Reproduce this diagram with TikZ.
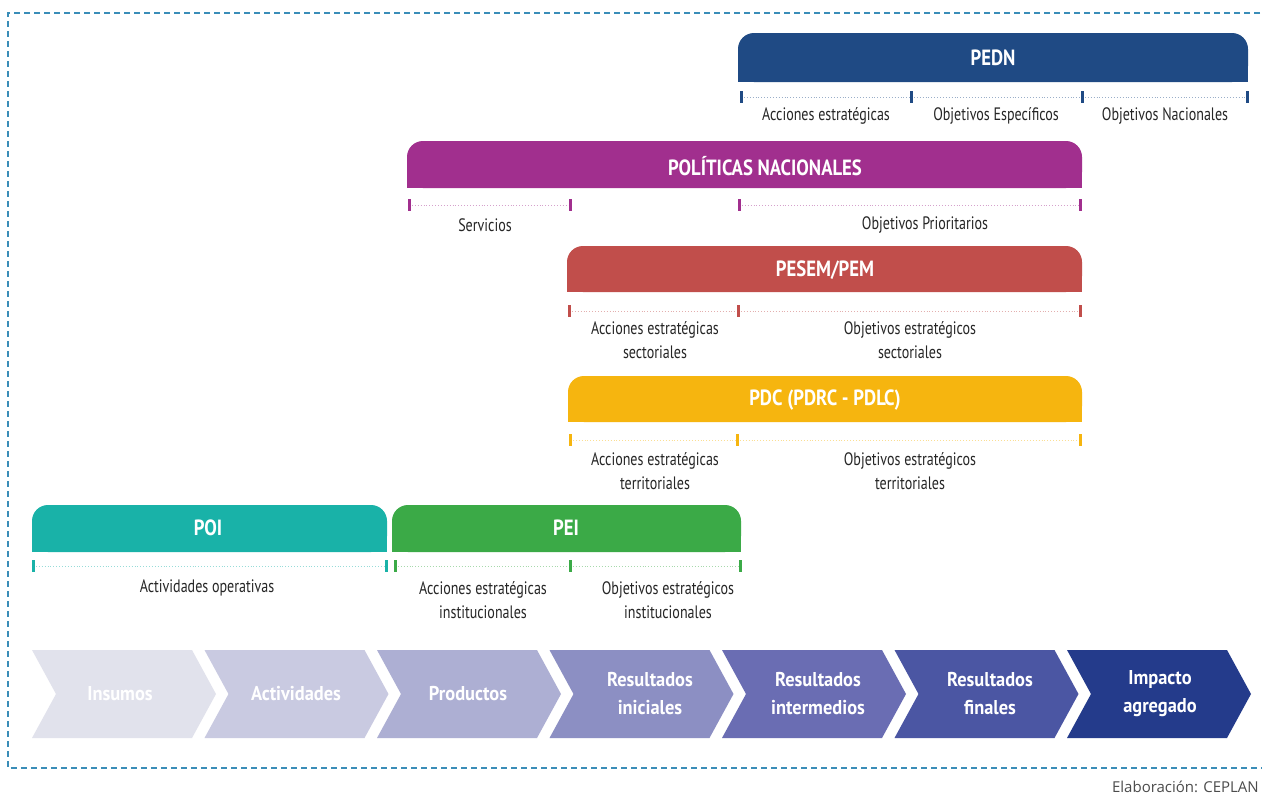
\documentclass[tikz,border=0pt]{standalone}
\usepackage{fontspec}
\setmainfont{PT Sans}[FakeStretch=0.78]
\newfontfamily\titlefont{PT Sans}[FakeStretch=0.85]
\newfontfamily\chevfont{PT Sans}[FakeStretch=0.92]
\newfontfamily\creditfont{Open Sans}
\definecolor{cpedn}{HTML}{1F4A84}
\definecolor{cpol}{HTML}{A12F8E}
\definecolor{cpesem}{HTML}{C14E4B}
\definecolor{cpdc}{HTML}{F6B50F}
\definecolor{cpoi}{HTML}{19B2A8}
\definecolor{cpei}{HTML}{3BAA47}
\definecolor{chA}{HTML}{E1E2EC}
\definecolor{chB}{HTML}{C9CAE1}
\definecolor{chC}{HTML}{ADAFD3}
\definecolor{chD}{HTML}{8C8FC3}
\definecolor{chE}{HTML}{6A6DB3}
\definecolor{chF}{HTML}{4B56A3}
\definecolor{chG}{HTML}{243B8B}
\definecolor{frame}{HTML}{3A8DB8}
\newcommand\planbar[5]{%
  \fill[#1,rounded corners=16pt] (#2,#4) rectangle (#3,#5);
  \fill[#1] (#2,#4+20) rectangle (#3,#5);}
\newcommand\planspan[4]{% color, x1, x2, y
  \draw[#1!45,dotted,line width=0.9pt] (#2,#4) -- (#3,#4);
  \fill[#1] (#2-1.5,#4-6) rectangle (#2+1.5,#4+6);
  \fill[#1] (#3-1.5,#4-6) rectangle (#3+1.5,#4+6);}
\newcommand\chev[2]{% color, start x
  \fill[#1] (#2,650) -- (#2+160,650) -- (#2+184,694) -- (#2+160,738) -- (#2,738) -- (#2+24,694) -- cycle;}
\tikzset{
  bartitle/.style={text=white,font=\titlefont\bfseries\fontsize{22}{24}\selectfont,inner sep=0pt},
  lbl/.style={text=black!85,font=\fontsize{18}{24}\selectfont,align=center,inner sep=0pt},
  chtext/.style={text=white,font=\chevfont\bfseries\fontsize{20}{28}\selectfont,align=center,inner sep=0pt}
}
\begin{document}
\begin{tikzpicture}[x=1pt,y=-1pt]
\clip (0,0) rectangle (1262,796);
\fill[white] (0,0) rectangle (1262,796);
% frame
\draw[frame,line width=1.4pt,dash pattern=on 6pt off 4pt] (1270,13) -- (8,13) -- (8,768) -- (1270,768);
% PEDN
\planbar{cpedn}{738}{1248}{33}{82}
\node[bartitle] (pedn) at (993,58) {PEDN};
\planspan{cpedn}{741}{911}{97}
\planspan{cpedn}{911}{1082}{97}
\planspan{cpedn}{1082}{1247}{97}
\node[lbl] (pedn1) at (826,116) {Acciones estratégicas};
\node[lbl] (pedn2) at (996,116) {Objetivos Específicos};
\node[lbl] (pedn3) at (1165,116) {Objetivos Nacionales};
% POLITICAS NACIONALES
\planbar{cpol}{407}{1082}{141}{188}
\node[bartitle] (pol) at (765,166) {POLÍTICAS NACIONALES};
\planspan{cpol}{409}{570}{205}
\planspan{cpol}{739}{1080}{205}
\node[lbl] (pol1) at (485,225) {Servicios};
\node[lbl] (pol2) at (925,225) {Objetivos Prioritarios};
% PESEM
\planbar{cpesem}{567}{1082}{246}{292}
\node[bartitle] (pesem) at (825,270) {PESEM/PEM};
\planspan{cpesem}{569}{738}{311}
\planspan{cpesem}{738}{1080}{311}
\node[lbl] (pesem1) at (655,340) {Acciones estratégicas\\sectoriales};
\node[lbl] (pesem2) at (910,340) {Objetivos estratégicos\\sectoriales};
% PDC
\planbar{cpdc}{568}{1082}{376}{422}
\node[bartitle] (pdc) at (825,400) {PDC (PDRC - PDLC)};
\planspan{cpdc}{570}{737}{440}
\planspan{cpdc}{737}{1080}{440}
\node[lbl] (pdc1) at (655,471) {Acciones estratégicas\\territoriales};
\node[lbl] (pdc2) at (910,471) {Objetivos estratégicos\\territoriales};
% POI
\planbar{cpoi}{32}{387}{505}{552}
\node[bartitle] (poi) at (208,528) {POI};
\planspan{cpoi}{33}{386}{566}
\node[lbl] (poi1) at (207,588) {Actividades operativas};
% PEI
\planbar{cpei}{392}{741}{505}{552}
\node[bartitle] (pei) at (566,528) {PEI};
\planspan{cpei}{395}{570}{566}
\planspan{cpei}{570}{740}{566}
\node[lbl] (pei1) at (483,600) {Acciones estratégicas\\institucionales};
\node[lbl] (pei2) at (668,600) {Objetivos estratégicos\\institucionales};
% chevrons
\chev{chA}{32}
\chev{chB}{204.5}
\chev{chC}{377}
\chev{chD}{549.5}
\chev{chE}{722}
\chev{chF}{894.5}
\chev{chG}{1067}
\node[chtext] (c1) at (120,694) {Insumos};
\node[chtext] (c2) at (296,694) {Actividades};
\node[chtext] (c3) at (468,694) {Productos};
\node[chtext] (c4) at (650,694) {Resultados\\iniciales};
\node[chtext] (c5) at (818,694) {Resultados\\intermedios};
\node[chtext] (c6) at (990,694) {Resultados\\finales};
\node[chtext] (c7) at (1160,694) {Impacto\\agregado};
% credit
\node[anchor=east,text=black!70,font=\creditfont\fontsize{15}{17}\selectfont,inner sep=0pt] (credit) at (1259,787) {Elaboración: CEPLAN};
\end{tikzpicture}
\end{document}
